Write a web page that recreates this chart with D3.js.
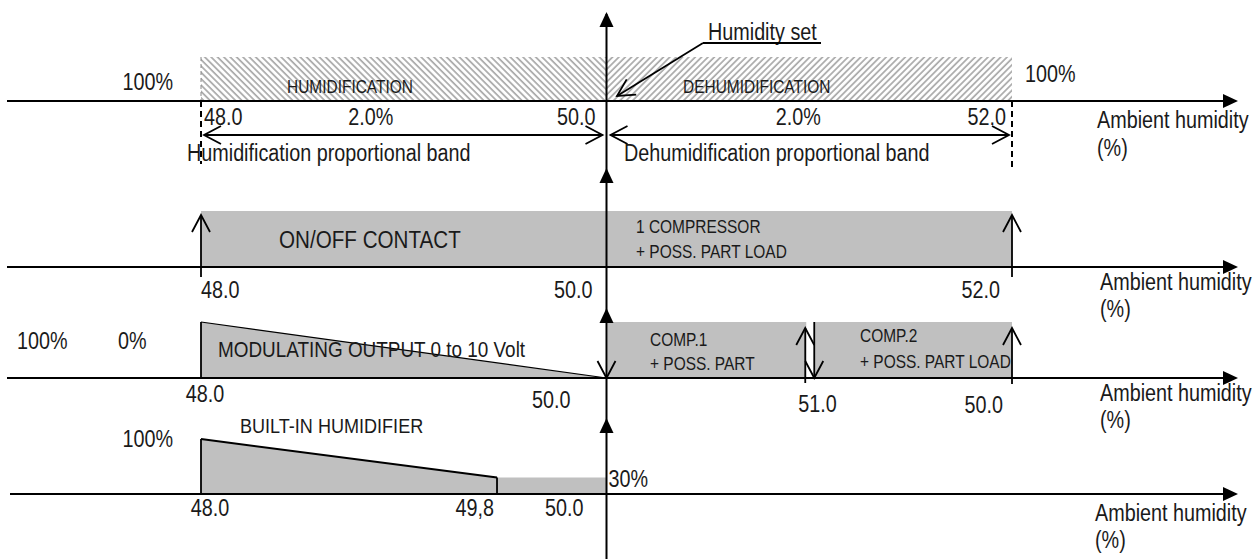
<!DOCTYPE html>
<html>
<head>
<meta charset="utf-8">
<style>
  body { margin: 0; background: #fff; }
  svg text { font-family: "Liberation Sans", Arial, sans-serif; fill: #1a1a1a; }
  .big { font-size: 23px; }
  .small { font-size: 18px; }
</style>
</head>
<body>
<script src="https://cdn.jsdelivr.net/npm/d3@7"></script>
<script>
// humidity values along the x axis
var bandStart = 48.0, setPoint = 50.0, bandEnd = 52.0;
var compStep = 51.0;
var humidifierKnee = 49.46;   // where the "49,8" break is drawn

// outputs in % for each panel, as [humidity, output]
var humidRegion = [[48.0, 100], [50.0, 100]];
var dehumRegion = [[50.0, 100], [52.0, 100]];
var onOffOutput = [[48.0, 100], [52.0, 100]];
var modulatingOutput = [[48.0, 100], [50.0, 0]];
var comp1Output = [[50.0, 100], [51.0, 100]];
var comp2Output = [[51.0, 100], [52.0, 100]];
var humidifierOutput = [[48.0, 100], [49.46, 30], [50.0, 30]];

// tick labels printed under the axes
var ticks1 = ["48.0", "50.0", "52.0"];
var ticks2 = ["48.0", "50.0", "52.0"];
var ticks3 = ["48.0", "50.0", "51.0", "50.0"];
var ticks4 = ["48.0", "49,8", "50.0"];
var bandLabels = ["2.0%", "2.0%"];

var W = 1259, H = 559;
var svg = d3.select("body").append("svg").attr("width", W).attr("height", H);

var x = d3.scaleLinear().domain([bandStart, bandEnd]).range([201, 1012]);
var xc = x(setPoint);

// one y scale per panel (0..100 %)
var axisY = [101, 267, 378, 494], topY = [57, 211, 322, 439];
var y = axisY.map(function(a, i) { return d3.scaleLinear().domain([0, 100]).range([a, topY[i]]); });

var defs = svg.append("defs");
function hatch(id, angle) {
  defs.append("pattern").attr("id", id).attr("patternUnits", "userSpaceOnUse")
    .attr("width", 4.5).attr("height", 4.5).attr("patternTransform", "rotate(" + angle + ")")
    .append("line").attr("x1", 1).attr("y1", 0).attr("x2", 1).attr("y2", 4.5)
    .attr("stroke", "#a8a8a8").attr("stroke-width", 1.7);
}
hatch("hatchL", -45);
hatch("hatchR", 45);

function area(data, yS) {
  return d3.area().x(function(d) { return x(d[0]); }).y0(yS(0)).y1(function(d) { return yS(d[1]); })(data);
}
function line(pts, w) {
  svg.append("path").attr("d", d3.line()(pts)).attr("fill", "none").attr("stroke", "#000").attr("stroke-width", w || 1.8);
}
function openHead(tx, ty, dx, dy) {
  // V shaped head, (dx,dy) = unit direction the arrow points
  var L = 17, Wd = 9;
  var bx = tx - dx * L, by = ty - dy * L;
  svg.append("path").attr("d", d3.line()([[bx - dy * Wd, by + dx * Wd], [tx, ty], [bx + dy * Wd, by - dx * Wd]]))
    .attr("fill", "none").attr("stroke", "#000").attr("stroke-width", 1.8);
}
function filledHead(tx, ty, dx, dy) {
  var L = 15, Wd = 7;
  var bx = tx - dx * L, by = ty - dy * L;
  svg.append("path").attr("d", d3.line()([[bx - dy * Wd, by + dx * Wd], [tx, ty], [bx + dy * Wd, by - dx * Wd]]) + "Z")
    .attr("fill", "#000");
}
// condensed look: squeeze the glyphs horizontally
function txt(s, px, py, cls, anchor, size) {
  var t = svg.append("text").attr("transform", "translate(" + px + "," + py + ") scale(0.86,1)")
    .attr("class", cls).attr("text-anchor", anchor || "start").text(s);
  if (size) t.style("font-size", size + "px");
  return t;
}
function hAxis(py, x0) {
  line([[x0, py], [1225, py]], 2);
  filledHead(1238, py, 1, 0);
}

// ---------- panel 1 : humidification / dehumidification bands ----------
svg.append("path").attr("d", area(humidRegion, y[0])).attr("fill", "url(#hatchL)");
svg.append("path").attr("d", area(dehumRegion, y[0])).attr("fill", "url(#hatchR)");
svg.append("line").attr("x1", x(bandStart)).attr("x2", x(bandStart)).attr("y1", y[0](100)).attr("y2", y[0](0))
  .attr("stroke", "#888").attr("stroke-dasharray", "4,3");
hAxis(axisY[0], 7);
svg.append("line").attr("x1", x(bandStart)).attr("x2", x(bandStart)).attr("y1", axisY[0]).attr("y2", 164)
  .attr("stroke", "#000").attr("stroke-width", 2).attr("stroke-dasharray", "6,4");
svg.append("line").attr("x1", x(bandEnd)).attr("x2", x(bandEnd)).attr("y1", axisY[0]).attr("y2", 171)
  .attr("stroke", "#000").attr("stroke-width", 2).attr("stroke-dasharray", "6,4");

txt("100%", 173, 90, "big", "end");
txt("HUMIDIFICATION", 287, 93, "small");
txt("DEHUMIDIFICATION", 683, 93, "small");
txt("100%", 1025, 82, "big");
txt("Humidity set", 708, 40, "big");
line([[703, 43], [821, 43]]);
line([[703, 43], [617, 96]]);
openHead(617, 96, -0.85, 0.53);

txt(ticks1[0], x(bandStart) + 3, 125, "big");
txt(ticks1[1], xc - 11, 125, "big", "end");
txt(ticks1[2], x(bandEnd) - 6, 125, "big", "end");
txt(bandLabels[0], (x(bandStart) + xc) / 2 - 33, 125, "big", "middle");
txt(bandLabels[1], (xc + x(bandEnd)) / 2 - 11, 125, "big", "middle");

line([[x(bandStart) + 3, 135], [xc - 4, 135]]);
openHead(x(bandStart) + 3, 135, -1, 0);
openHead(xc - 4, 135, 1, 0);
line([[xc + 4, 135], [x(bandEnd) - 3, 135]]);
openHead(xc + 4, 135, -1, 0);
openHead(x(bandEnd) - 3, 135, 1, 0);

txt("Humidification proportional band", 187, 161, "big");
txt("Dehumidification proportional band", 624, 161, "big");
txt("Ambient humidity", 1097, 128, "big");
txt("(%)", 1097, 156, "big");

// ---------- panel 2 : on/off contact ----------
svg.append("path").attr("d", area(onOffOutput, y[1])).attr("fill", "#c0c0c0");
hAxis(axisY[1], 7);
line([[x(bandStart), axisY[1] + 10], [x(bandStart), y[1](100) + 4]]);
openHead(x(bandStart), y[1](100) + 4, 0, -1);
line([[x(bandEnd), axisY[1] + 10], [x(bandEnd), y[1](100) + 4]]);
openHead(x(bandEnd), y[1](100) + 4, 0, -1);

txt("ON/OFF CONTACT", 279, 248, "big", "start", 24);
txt("1 COMPRESSOR", 636, 233, "small");
txt("+ POSS. PART LOAD", 636, 258, "small");
txt(ticks2[0], x(bandStart), 298, "big");
txt(ticks2[1], xc - 14, 298, "big", "end");
txt(ticks2[2], x(bandEnd) - 12, 298, "big", "end");
txt("Ambient humidity", 1100, 290, "big");
txt("(%)", 1100, 317, "big");

// ---------- panel 3 : modulating output + two compressors ----------
svg.append("path").attr("d", area(modulatingOutput, y[2])).attr("fill", "#c0c0c0");
svg.append("path").attr("d", d3.line().x(function(d) { return x(d[0]); }).y(function(d) { return y[2](d[1]); })(modulatingOutput))
  .attr("fill", "none").attr("stroke", "#000").attr("stroke-width", 1.2);
line([[x(bandStart), y[2](100)], [x(bandStart), axisY[2]]]);
svg.append("rect").attr("x", x(comp1Output[0][0]) + 1).attr("y", y[2](100))
  .attr("width", x(comp1Output[1][0]) - x(comp1Output[0][0]) - 4).attr("height", y[2](0) - y[2](100)).attr("fill", "#c0c0c0");
svg.append("rect").attr("x", x(comp2Output[0][0]) + 5).attr("y", y[2](100))
  .attr("width", x(comp2Output[1][0]) - x(comp2Output[0][0]) - 5).attr("height", y[2](0) - y[2](100)).attr("fill", "#c0c0c0");
hAxis(axisY[2], 7);
openHead(xc, axisY[2], 0, 1);
line([[x(compStep) - 4, axisY[2] + 5], [x(compStep) - 4, y[2](100) + 6]]);
openHead(x(compStep) - 4, y[2](100) + 6, 0, -1);
line([[x(compStep) + 5, y[2](100)], [x(compStep) + 5, axisY[2]]]);
openHead(x(compStep) + 5, axisY[2], 0, 1);
line([[x(bandEnd), axisY[2] + 6], [x(bandEnd), y[2](100) + 6]]);
openHead(x(bandEnd), y[2](100) + 6, 0, -1);

txt("100%", 17, 349, "big");
txt("0%", 118, 349, "big");
txt("MODULATING OUTPUT 0 to 10 Volt", 218, 357, "big", "start", 22);
txt("COMP.1", 650, 346, "small");
txt("+ POSS. PART", 650, 370, "small");
txt("COMP.2", 860, 342, "small");
txt("+ POSS. PART LOAD", 860, 368, "small");
txt(ticks3[0], x(bandStart) + 4, 402, "big", "middle");
txt(ticks3[1], xc - 36, 408, "big", "end");
txt(ticks3[2], x(compStep) - 11, 412, "big");
txt(ticks3[3], x(bandEnd) - 9, 413, "big", "end");
txt("Ambient humidity", 1100, 401, "big");
txt("(%)", 1100, 428, "big");

// ---------- panel 4 : built-in humidifier ----------
svg.append("path").attr("d", area(humidifierOutput.slice(0, 2), y[3])).attr("fill", "#c0c0c0");
svg.append("path").attr("d", area(humidifierOutput.slice(1), y[3])).attr("fill", "#c0c0c0");
svg.append("path").attr("d", d3.line().x(function(d) { return x(d[0]); }).y(function(d) { return y[3](d[1]); })(humidifierOutput.slice(0, 2)))
  .attr("fill", "none").attr("stroke", "#000").attr("stroke-width", 2);
line([[x(bandStart), y[3](100)], [x(bandStart), axisY[3]]]);
line([[x(humidifierKnee), y[3](30)], [x(humidifierKnee), axisY[3]]]);
hAxis(axisY[3], 10);

txt("100%", 173, 447, "big", "end");
txt("BUILT-IN HUMIDIFIER", 240, 433, "big", "start", 21);
txt("30%", xc + 2, 487, "big");
txt(ticks4[0], x(bandStart) + 9, 516, "big", "middle");
txt(ticks4[1], x(humidifierKnee) - 3, 516, "big", "end");
txt(ticks4[2], xc - 23, 516, "big", "end");
txt("Ambient humidity", 1095, 521, "big");
txt("(%)", 1095, 548, "big");

// ---------- central set-point axis ----------
line([[xc, 14], [xc, H]], 2);
[12, 168, 308, 418].forEach(function(t) { filledHead(xc, t, 0, -1); });
</script>
</body>
</html>
